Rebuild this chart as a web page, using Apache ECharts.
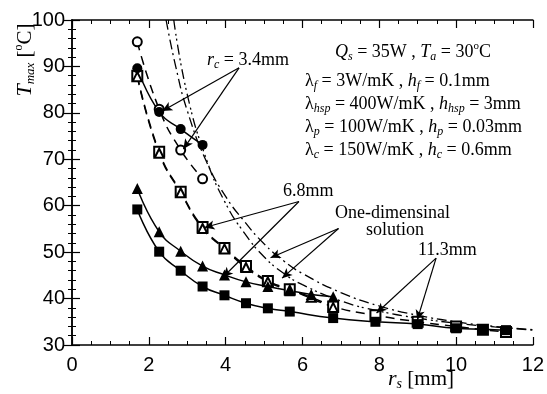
<!DOCTYPE html>
<html>
<head>
<meta charset="utf-8">
<script src="https://cdn.jsdelivr.net/npm/echarts@6/dist/echarts.min.js"></script>
<style>
  html, body { margin: 0; background: #fff; }
  #main { width: 547px; height: 394px; }
</style>
</head>
<body>
<div id="main"></div>
<script>
// r_c = 3.4mm
var rs34 = [1.7, 2.27, 2.83, 3.4];
var tFill34 = [89.6, 80.2, 76.5, 73.1];
var tOpen34 = [95.3, 80.8, 72.0, 65.8];
// r_c = 6.8mm
var rs68 = [1.7, 2.27, 2.83, 3.4, 3.97, 4.53, 5.1, 5.67, 6.23, 6.8];
var tFill68 = [63.7, 54.4, 50.2, 47.0, 45.1, 43.6, 42.6, 41.7, 40.9, 40.4];
var tOpen68 = [87.8, 71.3, 62.8, 55.1, 50.7, 46.7, 43.6, 41.8, 40.3, 38.1];
// r_c = 11.3mm
var rs113 = [1.7, 2.27, 2.83, 3.4, 3.97, 4.53, 5.1, 5.67, 6.8, 7.9, 9.0, 10.0, 10.7, 11.3];
var tFill113 = [59.2, 50.1, 46.0, 42.6, 40.7, 39.0, 37.9, 37.2, 35.8, 35.0, 34.5, 33.6, 33.4, 33.2];
var tOpen113 = [88.0, 71.6, 63.0, 55.4, 50.9, 47.0, 43.8, 42.0, 38.3, 36.4, 35.0, 34.0, 33.3, 32.8];
// one-dimensional solutions
var rs1dA = [2.45, 2.7, 3, 3.5, 4, 4.5, 5, 5.5, 6, 7, 8, 9, 10, 11, 12];
var t1dA = [100, 90, 80.5, 69.5, 62, 56.5, 51.8, 48.2, 45.4, 41.3, 38.4, 36.4, 35.0, 34.0, 33.3];
var rs1dB = [2.65, 3, 3.5, 4, 4.5, 5, 5.5, 6, 7, 8, 9, 10, 11, 12];
var t1dB = [100, 84, 70, 60.5, 54, 49, 45.5, 43, 39.5, 37.3, 35.8, 34.7, 33.9, 33.2];

function zip(xs, ys) {
  return xs.map(function (x, i) { return [x, ys[i]]; });
}

var serif = 'Liberation Serif';
var rich = {
  i: { fontFamily: serif, fontStyle: 'italic', fontSize: 18, lineHeight: 22 },
  s: { fontFamily: serif, fontStyle: 'italic', fontSize: 12, lineHeight: 12, verticalAlign: 'bottom' },
  u: { fontFamily: serif, fontSize: 11, lineHeight: 11, verticalAlign: 'top' }
};
function label(x, y, text) {
  return {
    type: 'text', x: x, y: y,
    style: { text: text, rich: rich, fontFamily: serif, fontSize: 18, lineHeight: 22, fill: '#000', textVerticalAlign: 'middle' }
  };
}

var chart = echarts.init(document.getElementById('main'));

var axisCommon = {
  axisLine: { lineStyle: { color: '#000', width: 1.5 } },
  axisTick: { inside: true, length: 8, lineStyle: { color: '#000', width: 1.2 } },
  minorTick: { show: true, length: 4, lineStyle: { color: '#000', width: 1 } },
  splitLine: { show: false }
};
var tickFont = { color: '#000', fontFamily: 'Liberation Sans', fontSize: 20 };

var solid = { color: '#000', width: 1.5 };
var dashed = { color: '#000', width: 1.5, type: [9, 6] };
var openItem = { color: '#000', borderWidth: 2 };

var option = {
  animation: false,
  grid: { left: 72, right: 13, top: 20, bottom: 49 },
  xAxis: [
    Object.assign({ type: 'value', min: 0, max: 12, interval: 2, position: 'bottom',
      axisLabel: Object.assign({ margin: 10 }, tickFont) }, axisCommon, { minorTick: Object.assign({ splitNumber: 4 }, axisCommon.minorTick) }),
    Object.assign({ type: 'value', min: 0, max: 12, interval: 2, position: 'top',
      axisLabel: { show: false } }, axisCommon, { minorTick: Object.assign({ splitNumber: 4 }, axisCommon.minorTick) })
  ],
  yAxis: [
    Object.assign({ type: 'value', min: 30, max: 100, interval: 10, position: 'left',
      axisLabel: Object.assign({ margin: 7 }, tickFont) }, axisCommon, { minorTick: Object.assign({ splitNumber: 5 }, axisCommon.minorTick) }),
    Object.assign({ type: 'value', min: 30, max: 100, interval: 10, position: 'right',
      axisLabel: { show: false } }, axisCommon, { minorTick: Object.assign({ splitNumber: 5 }, axisCommon.minorTick) })
  ],
  series: [
    { type: 'line', data: zip(rs1dA, t1dA), smooth: true, showSymbol: false, lineStyle: { color: '#000', width: 1.3, type: [10, 4, 2, 4] } },
    { type: 'line', data: zip(rs1dB, t1dB), smooth: true, showSymbol: false, lineStyle: { color: '#000', width: 1.3, type: [10, 4, 2, 3, 2, 4] } },
    { type: 'line', data: zip(rs34, tOpen34), smooth: true, symbol: 'emptyCircle', symbolSize: 9, lineStyle: dashed, itemStyle: openItem },
    { type: 'line', data: zip(rs113, tOpen113), smooth: true, symbol: 'emptyRect', symbolSize: 10, lineStyle: dashed, itemStyle: openItem },
    { type: 'line', data: zip(rs68, tOpen68), smooth: true, symbol: 'emptyTriangle', symbolSize: 9, lineStyle: dashed, itemStyle: openItem },
    { type: 'line', data: zip(rs34, tFill34), smooth: true, symbol: 'circle', symbolSize: 10, lineStyle: solid, itemStyle: { color: '#000' } },
    { type: 'line', data: zip(rs68, tFill68), smooth: true, symbol: 'triangle', symbolSize: 11, lineStyle: solid, itemStyle: { color: '#000' } },
    { type: 'line', data: zip(rs113, tFill113), smooth: true, symbol: 'rect', symbolSize: 10, lineStyle: solid, itemStyle: { color: '#000' } },
    {
      type: 'line', data: [], silent: true,
      markLine: {
        silent: true, animation: false, symbol: ['none', 'arrow'], symbolSize: [7, 10],
        label: { show: false },
        lineStyle: { color: '#000', width: 1.2, type: 'solid' },
        data: [
          [{ coord: [4.35, 89.7] }, { coord: [2.35, 80.4] }],
          [{ coord: [4.35, 89.7] }, { coord: [2.9, 72.2] }],
          [{ coord: [5.91, 60.9] }, { coord: [3.45, 55.3] }],
          [{ coord: [5.91, 60.9] }, { coord: [3.93, 44.6] }],
          [{ coord: [6.94, 55.1] }, { coord: [5.17, 48.8] }],
          [{ coord: [6.94, 55.1] }, { coord: [5.47, 44.4] }],
          [{ coord: [9.48, 48.7] }, { coord: [7.93, 36.9] }],
          [{ coord: [9.48, 48.7] }, { coord: [8.99, 35.4] }]
        ]
      }
    }
  ],
  graphic: [
    label(207, 60, '{i|r}{s|c} = 3.4mm'),
    label(283, 191, '6.8mm'),
    label(335, 213, 'One-dimensinal'),
    label(366, 230, 'solution'),
    label(418, 250, '11.3mm'),
    label(335, 52, '{i|Q}{s|s} = 35W , {i|T}{s|a} = 30{u|o}C'),
    label(305, 81, 'λ{s|f} = 3W/mK , {i|h}{s|f} = 0.1mm'),
    label(305, 104, 'λ{s|hsp} = 400W/mK , {i|h}{s|hsp} = 3mm'),
    label(305, 127, 'λ{s|p} = 100W/mK , {i|h}{s|p} = 0.03mm'),
    label(305, 150, 'λ{s|c} = 150W/mK , {i|h}{s|c} = 0.6mm'),
    {
      type: 'text', x: 25, y: 60, rotation: Math.PI / 2,
      style: {
        text: '{i|T}{s|max} [{u|o}C]', fill: '#000', fontFamily: serif, fontSize: 21, lineHeight: 24,
        textAlign: 'center', textVerticalAlign: 'middle',
        rich: {
          i: { fontFamily: serif, fontStyle: 'italic', fontSize: 22, lineHeight: 24 },
          s: { fontFamily: serif, fontStyle: 'italic', fontSize: 13, lineHeight: 13, verticalAlign: 'bottom' },
          u: { fontFamily: serif, fontSize: 12, lineHeight: 12, verticalAlign: 'top' }
        }
      }
    },
    {
      type: 'text', x: 421, y: 379,
      style: {
        text: '{i|r}{s|s} [mm]', fill: '#000', fontFamily: serif, fontSize: 21, lineHeight: 24,
        textAlign: 'center', textVerticalAlign: 'middle',
        rich: {
          i: { fontFamily: serif, fontStyle: 'italic', fontSize: 22, lineHeight: 24 },
          s: { fontFamily: serif, fontStyle: 'italic', fontSize: 14, lineHeight: 14, verticalAlign: 'bottom' }
        }
      }
    }
  ]
};
chart.setOption(option);
</script>
</body>
</html>
